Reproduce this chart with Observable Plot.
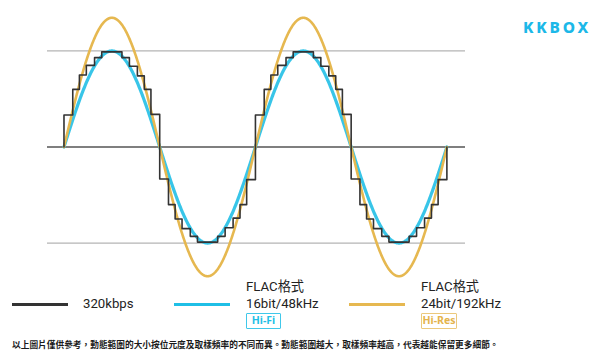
<!DOCTYPE html>
<html>
<head>
<meta charset="utf-8">
<script src="https://cdn.jsdelivr.net/npm/d3@7"></script>
<script src="https://cdn.jsdelivr.net/npm/@observablehq/plot@0.6"></script>
<style>
  html, body { margin: 0; padding: 0; background: #fff; }
  #wrap { position: relative; width: 600px; height: 364px; overflow: hidden;
          font-family: "Noto Sans", "Noto Sans CJK TC", sans-serif; color: #222; }
  #chart { position: absolute; left: 0; top: 0; }
  .abs { position: absolute; white-space: nowrap; }
  .bar { position: absolute; height: 3px; }
  .txt { font-family: Roboto, "Noto Sans CJK TC", sans-serif; font-size: 13.2px; line-height: 14px; height: 14px; }
  .badge { position: absolute; box-sizing: border-box; border: 1.5px solid; border-radius: 1px;
           font-weight: 700; font-size: 10.5px; text-align: center; font-family: "Noto Sans", sans-serif; }
</style>
</head>
<body>
<div id="wrap">
  <div id="chart"></div>
  <div class="abs" id="logo" style="left:523px; top:18px; font-family:'Noto Sans',sans-serif; font-weight:800; font-size:15.5px; line-height:18px; letter-spacing:2.8px; color:#1cb8e8;">KKBOX</div>

  <div class="bar" style="left:12px; top:303px; width:56px; background:#333;"></div>
  <div class="abs txt" style="left:83px; top:297px;">320kbps</div>

  <div class="bar" style="left:174px; top:302.5px; width:56px; background:#1fbfe6;"></div>
  <div class="abs txt" style="left:246px; top:280px;">FLAC格式</div>
  <div class="abs txt" style="left:246px; top:296.5px;">16bit/48kHz</div>
  <div class="badge" style="left:246px; top:313px; width:35px; height:16px; line-height:13px; border-color:#40c8ea; color:#1fbfe6;">Hi-Fi</div>

  <div class="bar" style="left:349px; top:302.5px; width:56px; background:#e6b850;"></div>
  <div class="abs txt" style="left:421px; top:280px;">FLAC格式</div>
  <div class="abs txt" style="left:421px; top:296.5px;">24bit/192kHz</div>
  <div class="badge" style="left:421px; top:313px; width:36px; height:16px; line-height:13px; border-color:#ecc97c; color:#e4b44c;">Hi-Res</div>

  <div class="abs" id="caption" style="left:12px; top:339px; font-size:8.7px; line-height:12px; font-weight:600; font-family:'Noto Sans CJK TC',sans-serif; color:#1a1a1a;">以上圖片僅供參考，動態範圍的大小按位元度及取樣頻率的不同而異。動態範圍越大，取樣頻率越高，代表越能保留更多細節。</div>
</div>
<script>
// ---- data (x in degrees of phase, y in units of the 16-bit amplitude) ----
const xExtent = [-31, 755];           // span of the reference lines
const referenceLevels = [1, -1];      // light gray guide lines
const baseLevel = [0];                // dark center line
const phaseEnd = 720;                 // two full periods
const hifiAmplitude = 1.0;            // FLAC 16bit/48kHz
const hiresAmplitude = 1.345;         // FLAC 24bit/192kHz

// 320kbps sample-and-hold steps
const stepEdges = [
  0, 16.5, 29, 42, 57.5, 71, 109, 123, 138, 151, 163.5,
  180, 196.5, 209, 222, 237.5, 251, 289, 303, 318, 331, 343.5,
  360, 376.5, 389, 402, 417.5, 431, 469, 483, 498, 511, 523.5,
  540, 556.5, 569, 582, 597.5, 611, 649, 663, 678, 691, 703.5
];
const stepLevels = [
  0.333, 0.60, 0.75, 0.85, 0.93, 0.99, 0.93, 0.84, 0.74, 0.60, 0.34,
  -0.333, -0.60, -0.75, -0.85, -0.93, -0.99, -0.93, -0.84, -0.74, -0.60, -0.34,
  0.333, 0.60, 0.75, 0.85, 0.93, 0.99, 0.93, 0.84, 0.74, 0.60, 0.34,
  -0.333, -0.60, -0.75, -0.85, -0.93, -0.99, -0.93, -0.84, -0.74, -0.60, -0.34
];

const phases = d3.range(0, phaseEnd + 0.5, 1);
const hifi = phases.map(p => ({x: p, y: hifiAmplitude * Math.sin(p * Math.PI / 180)}));
const hires = phases.map(p => ({x: p, y: hiresAmplitude * Math.sin(p * Math.PI / 180)}));
const steps = [{x: 0, y: 0}]
  .concat(stepEdges.map((e, i) => ({x: e, y: stepLevels[i]})))
  .concat([{x: phaseEnd, y: 0}]);

const plot = Plot.plot({
  width: 600,
  height: 282,
  marginLeft: 47,
  marginRight: 135,
  marginTop: 12,
  marginBottom: 1,
  x: {domain: xExtent, axis: null},
  y: {domain: [-1.4, 1.4], axis: null},
  style: {background: "transparent", overflow: "visible"},
  marks: [
    Plot.ruleY(referenceLevels, {stroke: "#b4b4b4", strokeWidth: 1.2}),
    Plot.ruleY(baseLevel, {stroke: "#555", strokeWidth: 1.3}),
    Plot.line(hifi, {x: "x", y: "y", stroke: "#22bfe6", strokeWidth: 3.2, strokeOpacity: 0.9}),
    Plot.line(hires, {x: "x", y: "y", stroke: "#e6b850", strokeWidth: 2.6}),
    Plot.line(steps, {x: "x", y: "y", curve: "step-after", stroke: "#333", strokeWidth: 1.6})
  ]
});
document.getElementById("chart").appendChild(plot);
</script>
</body>
</html>
